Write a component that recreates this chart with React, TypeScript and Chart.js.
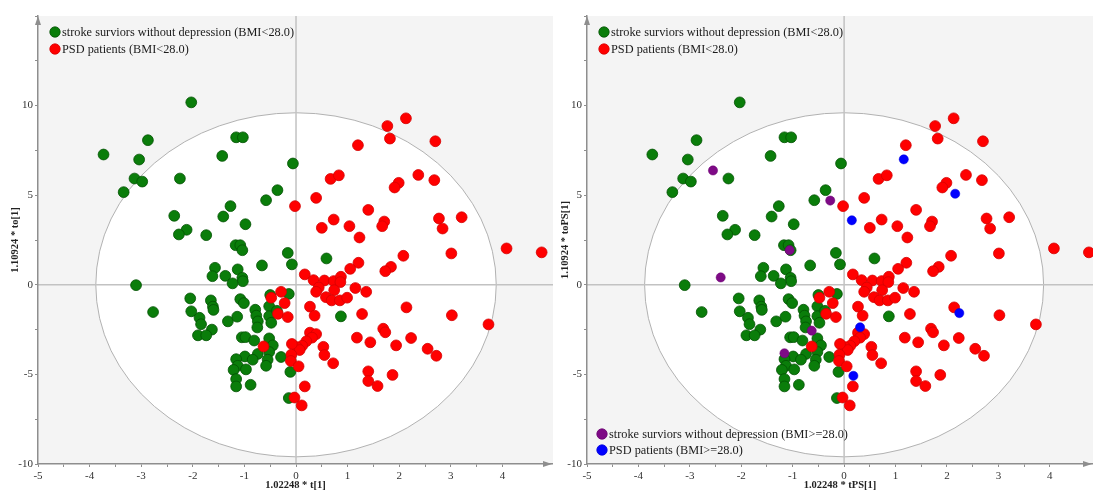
import React, { useEffect, useRef } from 'react';
import { Chart, registerables } from 'chart.js';

Chart.register(...registerables);

// ---- data ----
const GREEN_BMI_LT28: number[][] = [
  [-2.03, 10.18], [-3.73, 7.27], [-2.87, 8.07], [-3.04, 6.99], [-3.13, 5.93], [-2.98, 5.76],
  [-3.34, 5.17], [-2.25, 5.93], [-1.43, 7.19], [-1.16, 8.23], [-1.03, 8.23], [-0.36, 5.28],
  [-0.58, 4.72], [-1.27, 4.39], [-2.36, 3.85], [-1.41, 3.81], [-0.98, 3.38], [-2.12, 3.07],
  [-2.27, 2.81], [-1.74, 2.77], [-1.17, 2.21], [-1.08, 2.21], [-1.04, 1.93], [-0.66, 1.08],
  [-1.57, 0.95], [-1.62, 0.48], [-1.37, 0.5], [-1.13, 0.86], [-1.04, 0.39], [-1.03, 0.2],
  [-1.23, 0.08], [-3.1, -0.02], [-2.77, -1.52], [-2.05, -0.76], [-2.03, -1.48], [-1.87, -1.84],
  [-1.84, -2.2], [-1.65, -0.87], [-1.61, -1.22], [-1.6, -1.4], [-1.63, -2.5], [-1.9, -2.82],
  [-1.74, -2.82], [-1.32, -2.04], [-1.14, -1.78], [-1.08, -0.8], [-1.01, -1.02], [-1.05, -2.93],
  [-0.98, -2.92], [-0.81, -3.11], [-0.79, -1.39], [-0.77, -1.72], [-0.74, -2.04], [-0.75, -2.38],
  [-0.52, -1.2], [-0.52, -1.75], [-0.48, -2.12], [-0.5, -0.57], [-0.52, -2.99], [-0.45, -3.38],
  [-0.52, -3.75], [-0.74, -3.86], [-0.99, -4.0], [-0.84, -4.18], [-1.16, -4.15], [-1.13, -4.52],
  [-1.21, -4.75], [-0.97, -4.72], [-0.55, -4.18], [-0.58, -4.52], [-1.16, -5.26], [-1.16, -5.67],
  [-0.88, -5.58], [-0.29, -4.03], [-0.06, 6.77], [-0.16, 1.78], [-0.08, 1.14], [0.59, 1.47],
  [-0.14, -0.51], [0.87, -1.76], [-0.11, -4.86], [-0.14, -6.32], [-0.37, -1.45],
];

const RED_BMI_LT28: number[][] = [
  [2.13, 9.29], [1.77, 8.86], [1.82, 8.16], [2.7, 8.01], [1.2, 7.79], [0.67, 5.91], [0.83, 6.11],
  [2.37, 6.13], [2.68, 5.84], [1.99, 5.69], [1.91, 5.43], [0.39, 4.85], [-0.02, 4.39], [1.4, 4.18],
  [0.73, 3.64], [0.5, 3.18], [1.035, 3.27], [1.71, 3.53], [1.67, 3.27], [1.23, 2.64], [2.77, 3.7],
  [2.84, 3.14], [3.21, 3.77], [4.08, 2.03], [4.76, 1.81], [3.01, 1.75], [2.08, 1.62], [1.21, 1.23],
  [1.05, 0.89], [1.84, 1.0], [1.73, 0.76], [0.17, 0.58], [0.34, 0.26], [0.55, 0.24], [0.73, 0.21],
  [0.87, 0.45], [0.86, 0.15], [0.44, -0.15], [0.39, -0.39], [0.74, -0.3], [1.15, -0.18], [1.36, -0.39],
  [0.58, -0.69], [0.69, -0.87], [0.85, -0.87], [0.99, -0.72], [-0.29, -0.39], [-0.48, -0.72],
  [-0.22, -1.02], [-0.35, -1.62], [-0.16, -1.8], [0.27, -1.22], [0.36, -1.72], [2.14, -1.26],
  [3.02, -1.7], [3.73, -2.21], [1.28, -1.63], [1.69, -2.45], [1.73, -2.65], [1.18, -2.95],
  [1.44, -3.21], [1.94, -3.38], [2.23, -2.97], [2.55, -3.57], [2.72, -3.96], [0.27, -2.67],
  [0.39, -2.75], [0.31, -2.95], [0.2, -3.15], [0.12, -3.4], [0.02, -3.48], [0.07, -3.64],
  [-0.08, -3.3], [-0.09, -3.9], [-0.1, -4.25], [0.05, -4.55], [0.53, -3.46], [0.55, -3.92],
  [0.72, -4.38], [1.4, -4.83], [1.4, -5.37], [1.58, -5.65], [1.87, -5.03], [0.17, -5.67],
  [-0.03, -6.29], [0.11, -6.73], [-0.63, -3.44],
];

const PURPLE_BMI_GE28: number[][] = [
  [-2.55, 6.38], [-1.06, 1.93], [-2.4, 0.41], [-0.63, -2.56], [-1.16, -3.82], [-0.27, 4.7],
];

const BLUE_BMI_GE28: number[][] = [
  [1.16, 7.0], [2.16, 5.08], [0.15, 3.6], [2.24, -1.58], [0.31, -2.37], [0.18, -5.08],
];

const X_MAJOR_TICKS = [-5, -4, -3, -2, -1, 0, 1, 2, 3, 4];
const Y_MAJOR_TICKS = [-10, -5, 0, 5, 10];
const ELLIPSE_RADII = [3.88, 9.6];

const LABEL_GREEN_LT = 'stroke surviors without depression (BMI<28.0)';
const LABEL_RED_LT = 'PSD patients (BMI<28.0)';
const LABEL_PURPLE_GE = 'stroke surviors without depression (BMI>=28.0)';
const LABEL_BLUE_GE = 'PSD patients (BMI>=28.0)';

const COLORS = {
  green: { fill: '#0a7d0a', border: '#035203' },
  red: { fill: '#ff0000', border: '#d40000' },
  purple: { fill: '#7e0a86', border: '#6a0070' },
  blue: { fill: '#0000ff', border: '#0000d8' },
};

const SERIF = '"Liberation Serif", "Times New Roman", serif';

type LegendItem = { label: string; color: { fill: string; border: string }; dx: number; dy: number; fromBottom?: boolean };

type Panel = {
  left: number;
  width: number;
  yAxisWidth: number;
  yTitleCenter: number;
  xMax: number;
  xTitle: string;
  yTitle: string;
  withExtra: boolean;
  legend: LegendItem[];
};

const PANELS: Panel[] = [
  {
    left: 0, width: 553, yAxisWidth: 38, yTitleCenter: 15, xMax: 4.98,
    xTitle: '1.02248 * t[1]', yTitle: '1.10924 * to[1]', withExtra: false,
    legend: [
      { label: LABEL_GREEN_LT, color: COLORS.green, dx: 17, dy: 16 },
      { label: LABEL_RED_LT, color: COLORS.red, dx: 17, dy: 33 },
    ],
  },
  {
    left: 553, width: 540, yAxisWidth: 34, yTitleCenter: 12, xMax: 4.84,
    xTitle: '1.02248 * tPS[1]', yTitle: '1.10924 * toPS[1]', withExtra: true,
    legend: [
      { label: LABEL_GREEN_LT, color: COLORS.green, dx: 17, dy: 16 },
      { label: LABEL_RED_LT, color: COLORS.red, dx: 17, dy: 33 },
      { label: LABEL_PURPLE_GE, color: COLORS.purple, dx: 15, dy: 30, fromBottom: true },
      { label: LABEL_BLUE_GE, color: COLORS.blue, dx: 15, dy: 14, fromBottom: true },
    ],
  },
];

const toPts = (arr: number[][]) => arr.map(([x, y]) => ({ x, y }));

const AXIS_GRAY = '#8e8e8e';

function buildChart(canvas: HTMLCanvasElement, p: Panel) {
  const datasets: any[] = [
    {
      label: LABEL_GREEN_LT, data: toPts(GREEN_BMI_LT28), order: 4,
      backgroundColor: COLORS.green.fill, borderColor: COLORS.green.border, borderWidth: 0.8, pointRadius: 5.4,
    },
    {
      label: LABEL_RED_LT, data: toPts(RED_BMI_LT28), order: 3,
      backgroundColor: COLORS.red.fill, borderColor: COLORS.red.border, borderWidth: 0.8, pointRadius: 5.4,
    },
  ];
  if (p.withExtra) {
    datasets.push(
      {
        label: LABEL_PURPLE_GE, data: toPts(PURPLE_BMI_GE28), order: 2,
        backgroundColor: COLORS.purple.fill, borderColor: COLORS.purple.border, borderWidth: 0.5, pointRadius: 4.6,
      },
      {
        label: LABEL_BLUE_GE, data: toPts(BLUE_BMI_GE28), order: 1,
        backgroundColor: COLORS.blue.fill, borderColor: COLORS.blue.border, borderWidth: 0.5, pointRadius: 4.6,
      },
    );
  }

  const decor = {
    id: 'decor',
    beforeDraw(chart: any) {
      const { ctx, chartArea: a, scales } = chart;
      const x = scales.x, y = scales.y;
      ctx.save();
      ctx.fillStyle = '#f4f4f4';
      ctx.fillRect(a.left, a.top, a.right - a.left, a.bottom - a.top);
      ctx.beginPath();
      ctx.rect(a.left, a.top, a.right - a.left, a.bottom - a.top);
      ctx.clip();
      const cx = x.getPixelForValue(0);
      const cy = y.getPixelForValue(0);
      const rx = x.getPixelForValue(ELLIPSE_RADII[0]) - cx;
      const ry = cy - y.getPixelForValue(ELLIPSE_RADII[1]);
      ctx.beginPath();
      ctx.ellipse(cx, cy, rx, ry, 0, 0, Math.PI * 2);
      ctx.fillStyle = '#ffffff';
      ctx.fill();
      ctx.strokeStyle = '#b2b2b2';
      ctx.lineWidth = 1;
      ctx.stroke();
      ctx.strokeStyle = '#c2c2c2';
      ctx.lineWidth = 1.5;
      ctx.beginPath();
      ctx.moveTo(cx, a.top);
      ctx.lineTo(cx, a.bottom);
      ctx.moveTo(a.left, cy);
      ctx.lineTo(a.right, cy);
      ctx.stroke();
      ctx.restore();
    },
    afterDraw(chart: any) {
      const { ctx, chartArea: a } = chart;
      ctx.save();
      // axis arrows
      ctx.fillStyle = AXIS_GRAY;
      ctx.beginPath();
      ctx.moveTo(a.left, a.top);
      ctx.lineTo(a.left - 3, a.top + 9);
      ctx.lineTo(a.left + 3, a.top + 9);
      ctx.closePath();
      ctx.fill();
      ctx.beginPath();
      ctx.moveTo(a.right - 1, a.bottom);
      ctx.lineTo(a.right - 10, a.bottom - 3);
      ctx.lineTo(a.right - 10, a.bottom + 3);
      ctx.closePath();
      ctx.fill();
      // legends
      ctx.font = '12.3px ' + SERIF;
      ctx.textBaseline = 'middle';
      ctx.textAlign = 'left';
      for (const it of p.legend) {
        const mx = a.left + it.dx;
        const my = it.fromBottom ? a.bottom - it.dy : a.top + it.dy;
        ctx.beginPath();
        ctx.arc(mx, my, 5.2, 0, Math.PI * 2);
        ctx.fillStyle = it.color.fill;
        ctx.fill();
        ctx.strokeStyle = it.color.border;
        ctx.lineWidth = 0.8;
        ctx.stroke();
        ctx.fillStyle = '#1b1b1b';
        ctx.fillText(it.label, mx + 7, my + 0.5);
      }
      ctx.restore();
    },
  };

  const halfStep = (scale: any) => {
    scale.ticks = scale.ticks.filter((t: any) => Math.abs(t.value * 2 - Math.round(t.value * 2)) < 1e-6);
  };

  return new Chart(canvas, {
    type: 'scatter',
    data: { datasets },
    plugins: [decor],
    options: {
      responsive: false,
      animation: false,
      events: [],
      layout: { autoPadding: false, padding: { top: 16, left: 0, right: 0, bottom: 0 } },
      plugins: { legend: { display: false }, tooltip: { enabled: false } },
      scales: {
        x: {
          type: 'linear',
          min: -5,
          max: p.xMax,
          afterFit: (s: any) => { s.height = 27; s.paddingLeft = 0; s.paddingRight = 0; },
          afterBuildTicks: halfStep,
          grid: { display: true, drawOnChartArea: false, drawTicks: true, tickLength: 3, color: AXIS_GRAY },
          border: { display: true, color: AXIS_GRAY, width: 1.5 },
          ticks: {
            stepSize: 0.5,
            autoSkip: false,
            maxRotation: 0,
            padding: 3,
            color: '#333',
            font: { family: SERIF, size: 11 },
            callback: (v: any) => (X_MAJOR_TICKS.includes(Number(v)) ? String(v) : ''),
          },
          title: {
            display: true,
            text: p.xTitle,
            color: '#222',
            font: { family: SERIF, size: 10.5, weight: 'bold' },
            padding: { top: 0, bottom: -1 },
          },
        },
        y: {
          type: 'linear',
          min: -10,
          max: 15,
          afterFit: (s: any) => { s.width = p.yAxisWidth; s.paddingTop = 0; s.paddingBottom = 0; },
          afterBuildTicks: halfStep,
          grid: { display: true, drawOnChartArea: false, drawTicks: true, tickLength: 3, color: AXIS_GRAY },
          border: { display: true, color: AXIS_GRAY, width: 1.5 },
          ticks: {
            stepSize: 2.5,
            autoSkip: false,
            padding: 2,
            color: '#333',
            font: { family: SERIF, size: 11 },
            callback: (v: any) => (Y_MAJOR_TICKS.includes(Number(v)) ? String(v) : ''),
          },
          title: {
            display: true,
            text: p.yTitle,
            color: '#222',
            font: { family: SERIF, size: 10.5, weight: 'bold' },
            padding: { top: p.yTitleCenter - 6.3, bottom: 0 },
          },
        },
      },
    } as any,
  });
}

function PanelChart({ panel }: { panel: Panel }) {
  const ref = useRef<HTMLCanvasElement | null>(null);
  useEffect(() => {
    if (!ref.current) return;
    const chart = buildChart(ref.current, panel);
    return () => chart.destroy();
  }, [panel]);
  return (
    <canvas
      ref={ref}
      width={panel.width}
      height={491}
      style={{ position: 'absolute', left: panel.left, top: 0, width: panel.width, height: 491 }}
    />
  );
}

export default function App() {
  useEffect(() => {
    document.body.style.margin = '0';
  }, []);
  return (
    <div style={{ position: 'fixed', left: 0, top: 0, width: 1093, height: 491, background: '#ffffff', overflow: 'hidden' }}>
      {PANELS.map((p, i) => (
        <PanelChart key={i} panel={p} />
      ))}
    </div>
  );
}
